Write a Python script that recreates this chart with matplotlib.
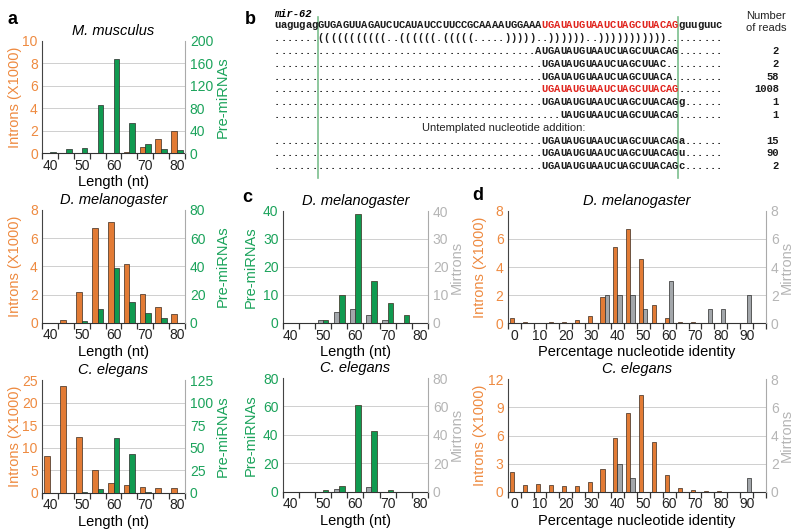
import numpy as np
import matplotlib
matplotlib.use("Agg")
import matplotlib.pyplot as plt

plt.rcParams['font.family'] = 'Liberation Sans'

W, H = 800, 532

# colours
ORANGE = '#E27B35'
GREEN = '#109A50'
GREY = '#A3A7AB'
ORANGE_TXT = '#EE8A40'
GREEN_TXT = '#1BA35B'
GREY_TXT = '#B5B5B5'

# panel a / c: length bins (nt)
lengths = [40, 45, 50, 55, 60, 65, 70, 75, 80]
length_labels = [40, 50, 60, 70, 80]
mm_introns = [0, 0, 0, 0, 0, 0.1, 0.6, 1.3, 2.0]
mm_premirna = [2, 7, 10, 86, 168, 54, 17, 7, 5]
dm_introns = [0, 0.2, 2.15, 6.7, 7.15, 4.2, 2.05, 1.1, 0.65]
dm_premirna = [0, 0, 1, 10, 39, 15, 7, 3, 0]
ce_introns = [8.1, 23.6, 12.4, 5.1, 2.1, 1.6, 1.3, 1.1, 1.0]
ce_premirna = [0, 0, 1, 4, 61, 43, 1, 0, 0]
dm_mirtrons_len = [0, 0, 1, 4, 5, 3, 1, 0, 0]
ce_mirtrons_len = [0, 0, 0, 2, 0, 3, 0, 0, 0]

# panel d: percentage nucleotide identity bins
identity = list(range(0, 100, 5))
identity_labels = [0, 10, 20, 30, 40, 50, 60, 70, 80, 90]
dm_introns_id = [0.35, 0.1, 0.05, 0.1, 0.12, 0.25, 0.55, 1.9, 5.45, 6.7,
                 4.6, 1.3, 0.4, 0.1, 0.07, 0.03, 0.02, 0.01, 0.01, 0]
dm_mirtrons_id = [0, 0, 0, 0, 0, 0, 0, 2, 2, 2, 1, 0, 3, 0, 0, 1, 1, 0, 2, 0]
ce_introns_id = [2.1, 0.7, 0.8, 0.7, 0.6, 0.6, 1.0, 2.4, 5.7, 8.4,
                 10.3, 5.3, 1.8, 0.4, 0.15, 0.05, 0.05, 0.02, 0, 0]
ce_mirtrons_id = [0, 0, 0, 0, 0, 0, 0, 0, 2, 1, 0, 0, 0, 0, 0, 0, 0, 0, 1, 0]

# panel b: mir-62 sequence and reads
flank5 = "uagugag"
loop = "GUGAGUUAGAUCUCAUAUCCUUCCGCAAAAUGGAAA"
mature = "UGAUAUGUAAUCUAGCUUACAG"
flank3 = "guuguuc"
structure = "......." + "(((((((((((..((((((.(((((.....)))))..))))))..)))))))))))"
read_starts = [42, 43, 43, 43, 43, 46]
read_seqs = ["AUGAUAUGUAAUCUAGCUUACAG", "UGAUAUGUAAUCUAGCUUAC",
             "UGAUAUGUAAUCUAGCUUACA", "UGAUAUGUAAUCUAGCUUACAG",
             "UGAUAUGUAAUCUAGCUUACAGg", "UAUGUAAUCUAGCUUACAG"]
read_counts = [2, 2, 58, 1008, 1, 1]
tailed_seqs = ["UGAUAUGUAAUCUAGCUUACAGa", "UGAUAUGUAAUCUAGCUUACAGu",
               "UGAUAUGUAAUCUAGCUUACAGc"]
tailed_counts = [15, 90, 2]

fig = plt.figure(figsize=(8, 5.32), dpi=100)


def px_rect(x0, y0, x1, y1):
    return [x0 / W, 1 - y1 / H, (x1 - x0) / W, (y1 - y0) / H]


def bar_panel(box, x, lvals, rvals, lmax, lstep, rmax, rstep, lcol, rcol,
              ltxt, rtxt, llabel, rlabel, lpos, rpos, title, xlabel,
              xlabels, step, bw):
    x0, y0, x1, y1 = box
    ax = fig.add_axes(px_rect(x0, y0, x1, y1))
    ax2 = ax.twinx()
    x = np.array(x, dtype=float)
    ax.bar(x - bw / 2, lvals, width=bw, color=lcol, edgecolor='#3a2a1e', linewidth=0.5, zorder=3)
    ax2.bar(x + bw / 2, rvals, width=bw, color=rcol, edgecolor='#2a2a2a', linewidth=0.5, zorder=3)
    ax.set_xlim(x[0] - step / 2, x[-1] + step / 2)
    ax.set_ylim(0, lmax)
    ax2.set_ylim(0, rmax)
    lt = np.arange(0, lmax + lstep / 2, lstep)
    rt = np.arange(0, rmax + rstep / 2, rstep)
    for v in lt[1:-1]:
        ax.axhline(v, color='#cfcfcf', lw=0.7, zorder=0)
    ax.set_yticks(lt)
    ax.set_yticklabels([f"{v:g}" for v in lt], color=ltxt, fontsize=10)
    ax2.set_yticks(rt)
    ax2.set_yticklabels([f"{v:g}" for v in rt], color=rtxt, fontsize=10)
    ax.tick_params(axis='y', length=0, pad=3)
    ax2.tick_params(axis='y', length=0, pad=3.5)
    ax.set_xticks(xlabels)
    ax.set_xticklabels([str(v) for v in xlabels], fontsize=10, color='#222222')
    ax.set_xticks(np.arange(x[0] - step / 2, x[-1] + step, step), minor=True)
    ax.tick_params(axis='x', which='major', length=0, pad=4)
    ax.tick_params(axis='x', which='minor', length=4.5, width=0.9, color='#333333')
    for a in (ax, ax2):
        a.spines['top'].set_visible(False)
    ax.spines['right'].set_visible(False)
    ax2.spines['left'].set_visible(False)
    ax2.spines['bottom'].set_visible(False)
    ax.spines['left'].set_color('#444444')
    ax.spines['bottom'].set_color('#333333')
    ax2.spines['right'].set_color('#aaaaaa')
    ym = (y0 + y1) / 2
    fig.text(lpos / W, 1 - ym / H, llabel, rotation=90, ha='center', va='center',
             color=ltxt, fontsize=10.5)
    fig.text(rpos / W, 1 - ym / H, rlabel, rotation=90, ha='center', va='center',
             color=rtxt, fontsize=10.5)
    xm = (x0 + x1) / 2
    fig.text(xm / W, 1 - (y0 - 10) / H, title, style='italic', ha='center', va='center', fontsize=10.5)
    fig.text(xm / W, 1 - (y1 + 29) / H, xlabel, ha='center', va='center', fontsize=10.5)
    return ax


# panel a
a_x0, a_x1 = 42, 185
bar_panel((a_x0, 40.7, a_x1, 153.3), lengths, mm_introns, mm_premirna, 10, 2, 200, 40,
          ORANGE, GREEN, ORANGE_TXT, GREEN_TXT, "Introns (X1000)", "Pre-miRNAs", 15, 223,
          "M. musculus", "Length (nt)", length_labels, 5, 1.8)
bar_panel((a_x0, 210, a_x1, 322.7), lengths, dm_introns, dm_premirna, 8, 2, 80, 20,
          ORANGE, GREEN, ORANGE_TXT, GREEN_TXT, "Introns (X1000)", "Pre-miRNAs", 15, 223,
          "D. melanogaster", "Length (nt)", length_labels, 5, 1.8)
bar_panel((a_x0, 380, a_x1, 492.7), lengths, ce_introns, ce_premirna, 25, 5, 125, 25,
          ORANGE, GREEN, ORANGE_TXT, GREEN_TXT, "Introns (X1000)", "Pre-miRNAs", 15, 223,
          "C. elegans", "Length (nt)", length_labels, 5, 1.8)

# panel c (mirtrons grey on left of each pair, pre-miRNAs green)
c_x0, c_x1 = 282.7, 428
bar_panel((c_x0, 211, c_x1, 323), lengths, dm_premirna, dm_mirtrons_len, 40, 10, 40, 10,
          GREEN, GREY, GREEN_TXT, GREY_TXT, "Pre-miRNAs", "Mirtrons", 251, 457,
          "D. melanogaster", "Length (nt)", length_labels, 5, -1.65)
bar_panel((c_x0, 378, c_x1, 491.7), lengths, ce_premirna, ce_mirtrons_len, 80, 20, 80, 20,
          GREEN, GREY, GREEN_TXT, GREY_TXT, "Pre-miRNAs", "Mirtrons", 251, 457,
          "C. elegans", "Length (nt)", length_labels, 5, -1.65)

# panel d
d_x0, d_x1 = 507.7, 766
bar_panel((d_x0, 210.7, d_x1, 323.3), identity, dm_introns_id, dm_mirtrons_id, 8, 2, 8, 2,
          ORANGE, GREY, ORANGE_TXT, GREY_TXT, "Introns (X1000)", "Mirtrons", 480, 787,
          "D. melanogaster", "Percentage nucleotide identity", identity_labels, 5, 1.6)
bar_panel((d_x0, 379.3, d_x1, 491.7), identity, ce_introns_id, ce_mirtrons_id, 12, 3, 8, 2,
          ORANGE, GREY, ORANGE_TXT, GREY_TXT, "Introns (X1000)", "Mirtrons", 480, 787,
          "C. elegans", "Percentage nucleotide identity", identity_labels, 5, 1.6)

# panel b: sequence alignment drawn in pixel coordinates
axb = fig.add_axes([0, 0, 1, 1])
axb.set_xlim(0, W)
axb.set_ylim(H, 0)
axb.axis('off')
axb.patch.set_alpha(0)

ncol = 72
cx0, cw = 274, 6.22
row0, dy = 28.5, 12.8
mono = dict(family='Liberation Mono', fontsize=7.6, fontweight='bold')


def draw_row(row, chars, colors):
    y = row0 + row * dy
    for i, (ch, col) in enumerate(zip(chars, colors)):
        axb.text(cx0 + (i + 0.5) * cw, y, ch, ha='center', va='baseline', color=col, **mono)


full = flank5 + loop + mature + flank3
cols = ['#1a1a1a'] * len(full)
for i in range(len(flank5 + loop), len(flank5 + loop + mature)):
    cols[i] = '#E0231C'
draw_row(0, full, cols)
draw_row(1, structure.ljust(ncol, '.'), ['#1a1a1a'] * ncol)

for k, (s0, sq) in enumerate(zip(read_starts, read_seqs)):
    line = ('.' * s0 + sq).ljust(ncol, '.')
    col = '#E0231C' if read_counts[k] == 1008 else '#1a1a1a'
    colors = ['#1a1a1a' if ch == '.' else col for ch in line]
    draw_row(2 + k, line, colors)
    axb.text(779, row0 + (2 + k) * dy, str(read_counts[k]), ha='right', va='baseline',
             color='#1a1a1a', **mono)

axb.text(422, row0 + 8 * dy, "Untemplated nucleotide addition:", ha='left', va='baseline',
         fontsize=8, color='#222222')

for k, sq in enumerate(tailed_seqs):
    line = ('.' * 43 + sq).ljust(ncol, '.')
    draw_row(9 + k, line, ['#1a1a1a'] * ncol)
    axb.text(779, row0 + (9 + k) * dy, str(tailed_counts[k]), ha='right', va='baseline',
             color='#1a1a1a', **mono)

axb.text(cx0, 17, "mir-62", ha='left', va='baseline', style='italic', **mono)
axb.text(766, 16, "Number", ha='center', va='center', fontsize=8, color='#222222')
axb.text(766, 28, "of reads", ha='center', va='center', fontsize=8, color='#222222')

for c in (7, 65):
    axb.plot([cx0 + c * cw, cx0 + c * cw], [17, 178], color='#7cbf8e', lw=1.2)

# panel letters
for letter, (lx, ly) in zip("abcd", [(12, 19), (250, 20), (247, 197), (478, 195)]):
    axb.text(lx, ly, letter, fontsize=13, fontweight='bold', ha='center', va='center')

fig.savefig("out.png", dpi=100)
